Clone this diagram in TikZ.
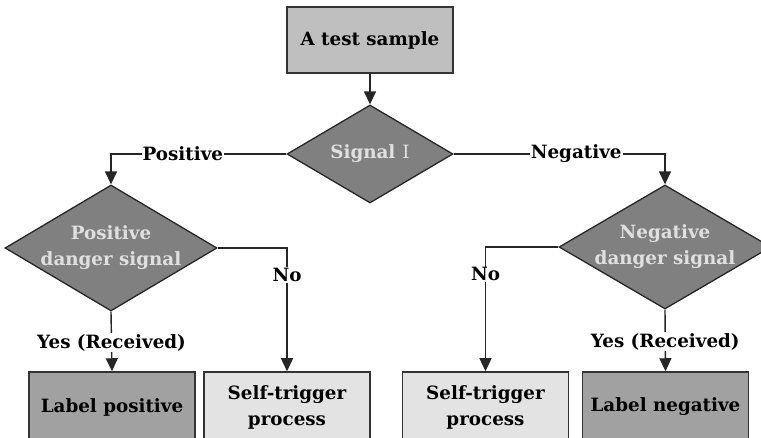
\documentclass[tikz,border=0pt]{standalone}
\usepackage{fontspec}
\newfontfamily\fr{DejaVu Serif}
\usetikzlibrary{shapes.geometric,arrows.meta}
\newcommand\tf{\fr\bfseries\fontsize{18.3}{26}\selectfont}
\tikzset{
  box/.style={draw=black!80, line width=1.5pt, minimum width=166pt, minimum height=70pt, inner sep=0pt, align=center, font=\tf},
  dia/.style={diamond, draw=black!85, line width=1.3pt, fill=black!50, inner sep=0pt},
  diatext/.style={text=black!12, align=center, inner sep=0pt, font=\tf},
  lab/.style={fill=white, inner sep=1pt, font=\tf},
  conn/.style={draw=black!85, line width=1.4pt},
  arr/.style={conn, -{Triangle[width=12pt,length=13pt]}},
}
\begin{document}
\begin{tikzpicture}[x=1pt,y=1pt]
\useasboundingbox (0,0) rectangle (761,438);
\node[box, fill=black!25, minimum height=66pt] (top) at (370,398) {A test sample};
\node[dia, minimum width=166pt, minimum height=98pt] (sig) at (370,284) {};
\node[diatext] (sigt) at (sig.center) {Signal\hspace{7pt}{\mdseries Ⅰ}};
\node[dia, minimum width=212pt, minimum height=126pt] (pd) at (111,190) {};
\node[diatext] (pdt) at (pd.center) {Positive\\danger signal};
\node[dia, minimum width=212pt, minimum height=124pt] (nd) at (665,191) {};
\node[diatext] (ndt) at (nd.center) {Negative\\danger signal};
\node[box, fill=black!37] (lp) at (112,31) {Label positive};
\node[box, fill=black!11] (sl) at (287,31) {Self-trigger\\process};
\node[box, fill=black!11] (sr) at (485.5,31) {Self-trigger\\process};
\node[box, fill=black!37] (ln) at (665.5,31) {Label negative};
\draw[arr] (top) -- (sig);
\draw[arr] (sig.west) -| (pd.north) node[lab, pos=0.295] {Positive};
\draw[arr] (sig.east) -| (nd.north) node[lab, pos=0.29] {Negative};
\draw[arr] (pd.east) -| (sl.north) node[lab, pos=0.61] {No};
\draw[arr] (nd.west) -| (sr.north) node[lab, pos=0.61] {No};
\draw[arr] (pd.south) -- (lp.north) node[lab, pos=0.52] {Yes (Received)};
\draw[arr] (nd.south) -- (ln.north) node[lab, pos=0.52] {Yes (Received)};
\end{tikzpicture}
\end{document}
